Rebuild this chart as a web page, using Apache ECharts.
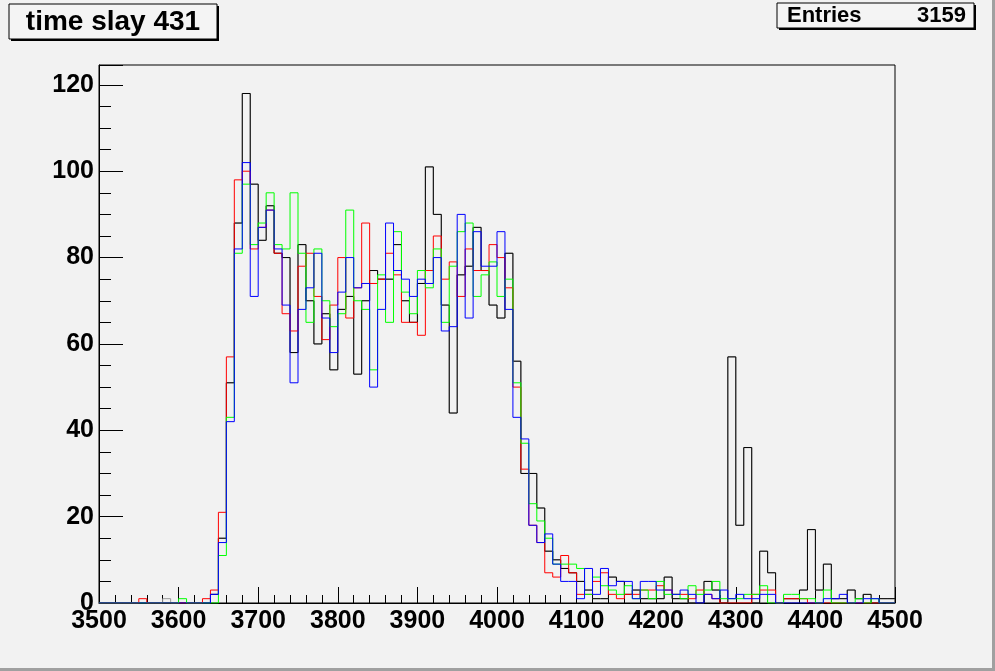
<!DOCTYPE html>
<html><head><meta charset="utf-8">
<script src="https://cdn.jsdelivr.net/npm/echarts@6/dist/echarts.min.js"></script>
<style>html,body{margin:0;padding:0;background:#f2f2f2}#c{width:995px;height:671px}</style>
</head><body><div id="c"></div>
<script>
// Histogram: 100 bins of width 10 from 3500 to 4500
const binStart = 3500;
const binWidth = 10;
const xMin = 3500, xMax = 4500, xStep = 100;
const yTicks = [0, 20, 40, 60, 80, 100, 120];
const titleText = 'time slay 431';
const entriesLabel = 'Entries';
const entriesValue = '3159';

const gray = [
0,0,0,0,0,0,0,0,1,0,
0,0,0,0,2,15,51,88,118,97,
84,92,81,80,58,83,70,60,67,54,
68,71,53,70,77,75,75,83,70,65,
74,101,90,69,44,76,78,87,77,69,
66,81,56,30,30,22,12,10,8,7,
5,3,1,1,6,5,2,3,1,1,
1,6,1,1,0,0,5,3,0,57,
18,36,0,12,7,0,1,1,3,17,
3,9,1,1,3,1,2,0,1,1];
const black = [
0,0,0,0,0,0,0,0,0,0,
0,0,0,0,2,15,51,88,118,97,
84,92,81,80,58,83,70,60,67,54,
68,71,53,70,77,75,75,83,70,65,
74,101,90,69,44,76,78,87,77,69,
66,81,56,30,30,22,12,10,8,7,
5,3,1,1,6,5,2,3,1,1,
1,6,1,1,0,0,5,3,0,57,
18,36,0,12,7,0,1,1,3,17,
3,9,1,1,3,1,2,0,1,1];
const red = [
0,0,0,0,0,1,0,0,0,0,
0,0,0,1,3,21,57,98,100,82,
87,91,81,67,63,78,81,71,61,69,
80,66,73,88,74,75,81,76,65,65,
62,77,85,75,79,71,82,77,77,83,
80,73,50,31,18,14,7,6,11,7,
2,2,5,7,2,1,2,2,3,3,
4,3,2,2,1,3,2,1,0,0,
0,0,2,3,3,0,1,1,1,0,
0,0,0,0,0,0,0,0,0,0];
const green = [
0,0,0,0,0,0,0,0,0,0,
1,0,0,0,0,11,43,81,97,83,
88,95,83,82,95,81,65,82,70,64,
67,91,70,68,54,76,65,86,72,67,
77,73,82,65,78,86,88,71,76,79,
71,75,51,37,23,19,15,9,9,9,
8,2,6,4,3,2,4,1,3,1,
5,2,2,1,4,2,3,5,1,1,
1,2,2,4,0,0,2,2,1,1,
0,3,0,0,0,1,0,1,0,0];
const blue = [
0,0,0,0,0,0,0,0,0,0,
0,0,0,0,2,14,42,82,102,71,
87,91,82,69,51,68,73,81,66,58,
72,80,73,74,50,68,88,77,75,71,
75,74,80,63,64,90,66,86,78,78,
86,68,43,38,18,14,16,9,5,5,
1,8,2,8,4,5,5,1,5,5,
3,3,2,3,2,0,2,1,3,1,
2,1,1,2,2,0,0,0,0,0,
0,1,1,2,0,0,1,1,0,0];

function steps(vals) {
  const pts = [];
  for (let i = 0; i < vals.length; i++) pts.push([binStart + i * binWidth, vals[i]]);
  pts.push([binStart + vals.length * binWidth, vals[vals.length - 1]]);
  return pts;
}
const seriesDefs = [
  ['gray', gray, '#9a9a9a'],
  ['black', black, '#000000'],
  ['red', red, '#ff0000'],
  ['green', green, '#00ff00'],
  ['blue', blue, '#0000ff']
];

const chart = echarts.init(document.getElementById('c'), null, {renderer: 'canvas'});
const labelFont = "'Liberation Sans', Arial, sans-serif";
chart.setOption({
  backgroundColor: '#f2f2f2',
  animation: false,
  grid: {left: 99, right: 100, top: 65, bottom: 68, show: true, borderColor: '#000', borderWidth: 1, backgroundColor: '#f2f2f2'},
  xAxis: {
    type: 'value', min: xMin, max: xMax, interval: xStep,
    axisLine: {show: true, onZero: false, lineStyle: {color: '#000', width: 1}},
    axisTick: {show: true, inside: true, length: 16, lineStyle: {color: '#000', width: 1}},
    minorTick: {show: true, splitNumber: 5, length: 8, lineStyle: {color: '#000', width: 1}},
    splitLine: {show: false},
    axisLabel: {margin: 6, fontFamily: labelFont, fontWeight: 'bold', fontSize: 25, color: '#000',
      formatter: v => String(v)}
  },
  yAxis: {
    type: 'value', min: 0, max: 124.6, interval: 20,
    axisLine: {show: true, lineStyle: {color: '#000', width: 1}},
    axisTick: {show: true, inside: true, length: 24, lineStyle: {color: '#000', width: 1}},
    minorTick: {show: true, splitNumber: 4, length: 12, lineStyle: {color: '#000', width: 1}},
    splitLine: {show: false},
    axisLabel: {margin: 5, showMaxLabel: false, fontFamily: labelFont, fontWeight: 'bold', fontSize: 25, color: '#000',
      formatter: v => (yTicks.indexOf(v) >= 0 ? String(v) : '')}
  },
  series: seriesDefs.map(([name, vals, color]) => ({
    name, type: 'line', step: 'end', data: steps(vals), symbol: 'none', clip: true,
    lineStyle: {color, width: 1}, itemStyle: {color}
  })),
  graphic: [
    {type: 'rect', shape: {x: 11, y: 6, width: 208, height: 35}, style: {fill: '#000'}, silent: true},
    {type: 'rect', shape: {x: 9, y: 4, width: 208, height: 35}, style: {fill: '#f4f4f4', stroke: '#000', lineWidth: 1}, silent: true},
    {type: 'text', x: 113, y: 22, style: {text: titleText, font: "bold 28px 'Liberation Sans', Arial, sans-serif", fill: '#000', align: 'center', verticalAlign: 'middle'}},
    {type: 'rect', shape: {x: 779, y: 5, width: 197, height: 25}, style: {fill: '#000'}, silent: true},
    {type: 'rect', shape: {x: 777, y: 3, width: 197, height: 25}, style: {fill: '#f4f4f4', stroke: '#000', lineWidth: 1}, silent: true},
    {type: 'text', x: 787, y: 16, style: {text: entriesLabel, font: "bold 22px 'Liberation Sans', Arial, sans-serif", fill: '#000', align: 'left', verticalAlign: 'middle'}},
    {type: 'text', x: 966, y: 16, style: {text: entriesValue, font: "bold 22px 'Liberation Sans', Arial, sans-serif", fill: '#000', align: 'right', verticalAlign: 'middle'}},
    {type: 'rect', shape: {x: 992, y: 0, width: 3, height: 671}, style: {fill: '#a0a0a0'}, silent: true},
    {type: 'rect', shape: {x: 0, y: 668, width: 995, height: 3}, style: {fill: '#a0a0a0'}, silent: true}
  ]
});
</script></body></html>
